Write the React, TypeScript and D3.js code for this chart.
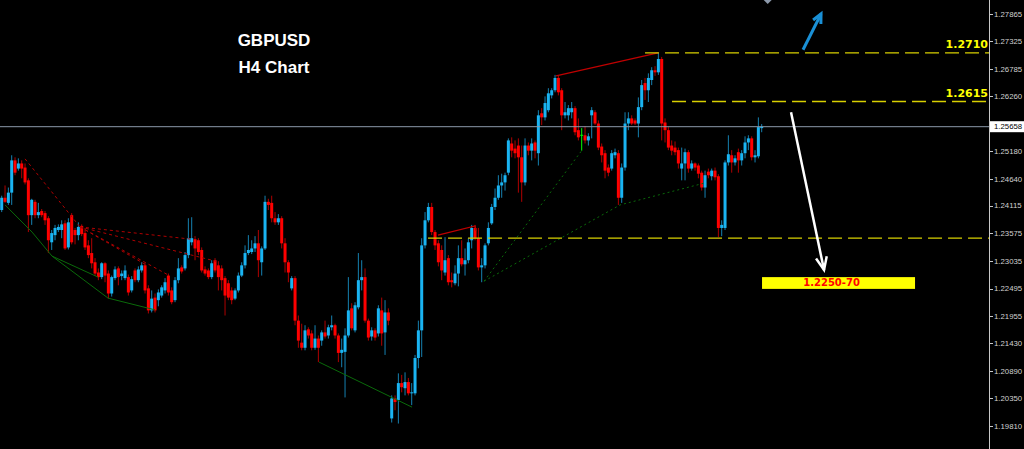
import React from 'react';
import * as d3 from 'd3';

// ---- data (GBPUSD H4) ----
const opens = [
  1.2403,1.2427,1.2417,1.2437,1.2500,1.2484,1.2494,1.2486,1.2461,1.2393,
  1.2419,1.2393,1.2401,1.2397,1.2387,1.2340,1.2354,1.2364,1.2364,1.2377,
  1.2330,1.2393,1.2364,1.2354,1.2372,1.2358,1.2334,1.2319,1.2301,1.2281,
  1.2272,1.2299,1.2279,1.2240,1.2270,1.2289,1.2274,1.2270,1.2272,1.2246,
  1.2285,1.2266,1.2285,1.2295,1.2250,1.2207,1.2232,1.2227,1.2236,1.2246,
  1.2275,1.2246,1.2227,1.2266,1.2291,1.2289,1.2315,1.2340,1.2346,1.2344,
  1.2325,1.2287,1.2285,1.2272,1.2305,1.2295,1.2289,1.2270,1.2260,1.2246,
  1.2230,1.2246,1.2275,1.2295,1.2319,1.2321,1.2328,1.2338,1.2301,1.2328,
  1.2419,1.2417,1.2387,1.2379,1.2387,1.2338,1.2301,1.2250,1.2270,1.2187,
  1.2144,1.2134,1.2170,1.2162,1.2134,1.2152,1.2148,1.2164,1.2158,1.2174,
  1.2178,1.2158,1.2124,1.2126,1.2158,1.2211,1.2168,1.2213,1.2266,1.2272,
  1.2187,1.2156,1.2168,1.2162,1.2207,1.2164,1.2203,1.1996,1.2035,1.2032,
  1.2065,1.2055,1.2067,1.2045,1.2045,1.2114,1.2168,1.2334,1.2383,1.2409,
  1.2360,1.2338,1.2325,1.2281,1.2309,1.2266,1.2260,1.2279,1.2309,1.2297,
  1.2305,1.2344,1.2368,1.2348,1.2291,1.2295,1.2338,1.2377,1.2409,1.2427,
  1.2451,1.2457,1.2476,1.2533,1.2523,1.2529,1.2506,1.2457,1.2529,1.2519,
  1.2535,1.2514,1.2592,1.2584,1.2598,1.2627,1.2637,1.2661,1.2637,1.2588,
  1.2588,1.2594,1.2602,1.2559,1.2549,1.2549,1.2539,1.2588,1.2594,1.2572,
  1.2527,1.2514,1.2486,1.2484,1.2510,1.2514,1.2427,1.2486,1.2572,1.2582,
  1.2578,1.2572,1.2604,1.2651,1.2637,1.2657,1.2676,1.2672,1.2698,1.2574,
  1.2559,1.2529,1.2525,1.2520,1.2484,1.2494,1.2516,1.2484,1.2494,1.2490,
  1.2476,1.2447,1.2478,1.2469,1.2480,1.2469,1.2368,1.2368,1.2496,1.2510,
  1.2496,1.2516,1.2500,1.2514,1.2535,1.2543,1.2506,1.2508,1.2563,
];
const closes = [
  1.2427,1.2419,1.2437,1.2500,1.2476,1.2494,1.2484,1.2457,1.2393,1.2423,
  1.2393,1.2399,1.2393,1.2383,1.2344,1.2358,1.2368,1.2370,1.2375,1.2328,
  1.2379,1.2340,1.2354,1.2370,1.2356,1.2330,1.2315,1.2299,1.2279,1.2272,
  1.2299,1.2275,1.2240,1.2272,1.2287,1.2272,1.2279,1.2285,1.2242,1.2268,
  1.2266,1.2287,1.2295,1.2246,1.2207,1.2230,1.2207,1.2242,1.2252,1.2262,
  1.2242,1.2223,1.2266,1.2289,1.2283,1.2315,1.2348,1.2348,1.2328,1.2321,
  1.2285,1.2279,1.2272,1.2299,1.2285,1.2272,1.2266,1.2236,1.2232,1.2227,
  1.2246,1.2275,1.2295,1.2319,1.2325,1.2328,1.2338,1.2305,1.2328,1.2419,
  1.2413,1.2387,1.2379,1.2387,1.2338,1.2301,1.2281,1.2270,1.2187,1.2148,
  1.2134,1.2168,1.2158,1.2134,1.2152,1.2134,1.2164,1.2156,1.2174,1.2178,
  1.2158,1.2124,1.2130,1.2158,1.2207,1.2172,1.2217,1.2266,1.2272,1.2187,
  1.2154,1.2168,1.2154,1.2211,1.2162,1.2203,1.2187,1.2035,1.2028,1.2065,
  1.2057,1.2067,1.2045,1.2047,1.2114,1.2168,1.2334,1.2383,1.2409,1.2360,
  1.2334,1.2301,1.2285,1.2305,1.2262,1.2262,1.2279,1.2309,1.2297,1.2305,
  1.2340,1.2368,1.2348,1.2291,1.2295,1.2334,1.2368,1.2409,1.2427,1.2451,
  1.2457,1.2471,1.2539,1.2519,1.2514,1.2506,1.2457,1.2529,1.2519,1.2533,
  1.2519,1.2588,1.2584,1.2612,1.2631,1.2637,1.2661,1.2633,1.2588,1.2594,
  1.2602,1.2602,1.2555,1.2545,1.2549,1.2539,1.2547,1.2598,1.2572,1.2525,
  1.2510,1.2480,1.2476,1.2514,1.2516,1.2427,1.2486,1.2572,1.2582,1.2572,
  1.2572,1.2604,1.2647,1.2637,1.2661,1.2676,1.2672,1.2698,1.2572,1.2559,
  1.2525,1.2519,1.2516,1.2494,1.2494,1.2516,1.2484,1.2494,1.2486,1.2474,
  1.2447,1.2471,1.2471,1.2480,1.2467,1.2368,1.2374,1.2496,1.2512,1.2496,
  1.2504,1.2500,1.2514,1.2535,1.2543,1.2506,1.2510,1.2565,1.25658,
];
const highs = [
  1.2431,1.2451,1.2447,1.2510,1.2506,1.2504,1.2500,1.2494,1.2465,1.2425,
  1.2423,1.2417,1.2405,1.2401,1.2391,1.2364,1.2374,1.2375,1.2383,1.2383,
  1.2387,1.2397,1.2368,1.2379,1.2375,1.2368,1.2344,1.2348,1.2309,1.2289,
  1.2301,1.2301,1.2285,1.2275,1.2293,1.2293,1.2285,1.2295,1.2277,1.2274,
  1.2289,1.2293,1.2301,1.2299,1.2256,1.2246,1.2240,1.2248,1.2256,1.2270,
  1.2279,1.2252,1.2272,1.2309,1.2295,1.2321,1.2387,1.2389,1.2352,1.2348,
  1.2330,1.2293,1.2289,1.2305,1.2309,1.2303,1.2295,1.2274,1.2266,1.2252,
  1.2250,1.2281,1.2301,1.2334,1.2354,1.2344,1.2352,1.2364,1.2332,1.2431,
  1.2425,1.2431,1.2399,1.2395,1.2391,1.2348,1.2305,1.2274,1.2274,1.2197,
  1.2181,1.2178,1.2174,1.2168,1.2178,1.2158,1.2168,1.2187,1.2179,1.2197,
  1.2181,1.2162,1.2152,1.2172,1.2272,1.2221,1.2223,1.2319,1.2305,1.2289,
  1.2191,1.2174,1.2172,1.2217,1.2232,1.2227,1.2211,1.2041,1.2041,1.2084,
  1.2081,1.2086,1.2075,1.2065,1.2120,1.2187,1.2348,1.2399,1.2417,1.2417,
  1.2364,1.2344,1.2334,1.2350,1.2315,1.2281,1.2295,1.2334,1.2344,1.2328,
  1.2348,1.2374,1.2374,1.2368,1.2309,1.2338,1.2379,1.2415,1.2445,1.2471,
  1.2474,1.2476,1.2543,1.2545,1.2539,1.2543,1.2529,1.2543,1.2535,1.2543,
  1.2539,1.2598,1.2602,1.2625,1.2641,1.2641,1.2667,1.2665,1.2641,1.2614,
  1.2608,1.2614,1.2606,1.2582,1.2563,1.2567,1.2553,1.2604,1.2598,1.2578,
  1.2533,1.2520,1.2492,1.2520,1.2523,1.2520,1.2494,1.2594,1.2594,1.2588,
  1.2582,1.2623,1.2657,1.2661,1.2670,1.2682,1.2684,1.2710,1.2702,1.2582,
  1.2565,1.2539,1.2537,1.2525,1.2525,1.2523,1.2520,1.2500,1.2496,1.2494,
  1.2480,1.2480,1.2484,1.2484,1.2486,1.2473,1.2383,1.2500,1.2549,1.2520,
  1.2510,1.2523,1.2520,1.2547,1.2549,1.2547,1.2520,1.2584,1.2571,
];
const lows = [
  1.2399,1.2417,1.2413,1.2413,1.2471,1.2480,1.2465,1.2453,1.2360,1.2374,
  1.2387,1.2387,1.2389,1.2374,1.2319,1.2325,1.2344,1.2360,1.2348,1.2325,
  1.2326,1.2336,1.2336,1.2344,1.2352,1.2325,1.2309,1.2289,1.2274,1.2266,
  1.2268,1.2262,1.2230,1.2234,1.2266,1.2256,1.2266,1.2266,1.2236,1.2242,
  1.2262,1.2262,1.2281,1.2240,1.2201,1.2203,1.2203,1.2215,1.2232,1.2240,
  1.2236,1.2219,1.2223,1.2260,1.2279,1.2285,1.2309,1.2334,1.2305,1.2315,
  1.2281,1.2275,1.2268,1.2268,1.2281,1.2246,1.2246,1.2197,1.2227,1.2219,
  1.2227,1.2242,1.2272,1.2289,1.2315,1.2317,1.2321,1.2272,1.2275,1.2325,
  1.2403,1.2379,1.2374,1.2374,1.2328,1.2281,1.2262,1.2246,1.2178,1.2134,
  1.2129,1.2129,1.2152,1.2129,1.2130,1.2106,1.2138,1.2152,1.2152,1.2168,
  1.2152,1.2106,1.2096,1.2037,1.2154,1.2168,1.2164,1.2209,1.2246,1.2183,
  1.2148,1.2148,1.2148,1.2156,1.2138,1.2120,1.2178,1.1988,1.2012,1.1986,
  1.2047,1.2041,1.2041,1.2022,1.2041,1.2094,1.2116,1.2328,1.2379,1.2354,
  1.2325,1.2293,1.2266,1.2275,1.2256,1.2252,1.2256,1.2254,1.2293,1.2275,
  1.2299,1.2328,1.2344,1.2285,1.2262,1.2289,1.2334,1.2374,1.2403,1.2423,
  1.2427,1.2441,1.2471,1.2506,1.2504,1.2437,1.2419,1.2451,1.2510,1.2500,
  1.2504,1.2490,1.2569,1.2578,1.2594,1.2621,1.2633,1.2627,1.2559,1.2582,
  1.2578,1.2582,1.2549,1.2539,1.2519,1.2533,1.2529,1.2543,1.2569,1.2520,
  1.2496,1.2465,1.2469,1.2480,1.2504,1.2413,1.2417,1.2480,1.2559,1.2569,
  1.2569,1.2545,1.2598,1.2618,1.2614,1.2647,1.2665,1.2667,1.2539,1.2535,
  1.2520,1.2510,1.2510,1.2484,1.2461,1.2461,1.2476,1.2480,1.2480,1.2465,
  1.2441,1.2427,1.2465,1.2461,1.2461,1.2350,1.2352,1.2364,1.2490,1.2476,
  1.2490,1.2476,1.2490,1.2504,1.2520,1.2500,1.2496,1.2504,1.2555,
];

// price-axis tick labels (the one hidden behind the current price box is shown as a tick only)
const axisTicks = [1.27865, 1.27325, 1.26785, 1.26260, 1.25180, 1.24640, 1.24115,
  1.23575, 1.23035, 1.22495, 1.21955, 1.21430, 1.20890, 1.20350, 1.19810];
const hiddenTick = 1.25720;
const currentPrice = 1.25658;

// horizontal levels: price, starting bar index
const levelPrices = [1.2710, 1.2615, 1.2348];
const levelStarts = [193, 201.1, 127.9];
const levelLabels = ['1.2710', '1.2615', ''];

// annotation lines as [barIndex, price]
const redDashed: [number, number][][] = [
  [[7, 1.2503], [23.5, 1.2370]],
  [[23.5, 1.2370], [57, 1.2346]],
  [[23.5, 1.2370], [64.3, 1.2303]],
  [[23.5, 1.2370], [43.3, 1.2296]],
  [[23.5, 1.2370], [50, 1.2276]],
];
const greenSolid: [number, number][][] = [
  [[1, 1.2413], [9.1, 1.2360], [15.1, 1.2313], [28.9, 1.2272]],
  [[15.1, 1.2313], [31.9, 1.2231], [46, 1.2208]],
  [[95.2, 1.2106], [123.1, 1.2018]],
];
const greenDotted: [number, number][][] = [
  [[144.7, 1.2264], [174.1, 1.2520]],
  [[144.7, 1.2264], [185.5, 1.2413], [211, 1.2456]],
];
const redSolid: [number, number][][] = [
  [[130.9, 1.2354], [142, 1.2372], [142.3, 1.2362]],
  [[166.3, 1.2665], [196.9, 1.2710]],
];
const blueArrow: [number, number][] = [[240.4, 1.2716], [245.8, 1.2786]];
const whiteArrow: [number, number][] = [[236.8, 1.2594], [246.7, 1.2286]];
const targetBox = { from: 228.1, to: 274, top: 1.2272, bottom: 1.2249, label: '1.2250-70' };

const W = 1024;
const H = 449;
const AXIS_X = 989;

const BULL = '#1ab4f2';
const BEAR = '#ff0000';
const BULL_WICK = '#1580b0';
const BEAR_WICK = '#b00000';

function arrowHead(x1: number, y1: number, x2: number, y2: number, len: number, ang: number) {
  const a = Math.atan2(y2 - y1, x2 - x1);
  const p1 = [x2 - len * Math.cos(a - ang), y2 - len * Math.sin(a - ang)];
  const p2 = [x2 - len * Math.cos(a + ang), y2 - len * Math.sin(a + ang)];
  return `M${p1[0]},${p1[1]}L${x2},${y2}L${p2[0]},${p2[1]}`;
}

export default function App() {
  const x = d3.scaleLinear().domain([0, 228]).range([1.7, 761.7]);
  const y = d3.scaleLinear().domain([1.19810, 1.27865]).range([426.1, 13.7]);
  const line = d3.line<[number, number]>().x(d => x(d[0])).y(d => y(d[1]));

  const bx1 = x(blueArrow[0][0]), by1 = y(blueArrow[0][1]);
  const bx2 = x(blueArrow[1][0]), by2 = y(blueArrow[1][1]);
  const wx1 = x(whiteArrow[0][0]), wy1 = y(whiteArrow[0][1]);
  const wx2 = x(whiteArrow[1][0]), wy2 = y(whiteArrow[1][1]);

  return (
    <svg width={W} height={H} style={{ position: 'absolute', left: 0, top: 0, display: 'block' }}>
      <rect x={0} y={0} width={W} height={H} fill="#000" />

      {/* candles */}
      {opens.map((o, i) => {
        const c = closes[i];
        const doji = o === c;
        const up = c > o;
        const body = doji ? '#00ff00' : up ? BULL : BEAR;
        const wick = doji ? '#00ff00' : up ? BULL_WICK : BEAR_WICK;
        const cx = x(i);
        const yt = y(Math.max(o, c));
        const yb = y(Math.min(o, c));
        return (
          <g key={i}>
            <line x1={cx} x2={cx} y1={y(highs[i])} y2={y(lows[i])} stroke={wick} strokeWidth={1} />
            {doji ? (
              <line x1={cx - 1.5} x2={cx + 1.5} y1={yt} y2={yt} stroke={body} strokeWidth={1} />
            ) : (
              <rect x={cx - 1.5} y={yt} width={3} height={Math.max(1, yb - yt)} fill={body} />
            )}
          </g>
        );
      })}

      {/* annotation lines */}
      {greenSolid.map((pts, i) => (
        <path key={'gs' + i} d={line(pts) || ''} fill="none" stroke="#0a6a0a" strokeWidth={1} />
      ))}
      {greenDotted.map((pts, i) => (
        <path key={'gd' + i} d={line(pts) || ''} fill="none" stroke="#0a6a0a" strokeWidth={1} strokeDasharray="2,3" />
      ))}
      {redDashed.map((pts, i) => (
        <path key={'rd' + i} d={line(pts) || ''} fill="none" stroke="#b00000" strokeWidth={1} strokeDasharray="3,3" />
      ))}
      {redSolid.map((pts, i) => (
        <path key={'rs' + i} d={line(pts) || ''} fill="none" stroke="#c00000" strokeWidth={1.2} />
      ))}

      {/* current price line */}
      <line x1={0} x2={AXIS_X} y1={y(currentPrice)} y2={y(currentPrice)} stroke="#8c99ab" strokeWidth={1} />

      {/* yellow levels */}
      {levelPrices.map((p, i) => (
        <g key={'lv' + i}>
          <line x1={x(levelStarts[i])} x2={AXIS_X} y1={y(p)} y2={y(p)} stroke="#d8d000" strokeWidth={1.3} strokeDasharray="14,6" />
          {levelLabels[i] && (
            <text x={AXIS_X - 1} y={y(p) - 4.5} textAnchor="end" fill="#ffff00" fontFamily="DejaVu Sans" fontWeight="bold" fontSize={11}>
              {levelLabels[i]}
            </text>
          )}
        </g>
      ))}

      {/* arrows */}
      <line x1={bx1} y1={by1} x2={bx2} y2={by2} stroke="#1a90d6" strokeWidth={3} />
      <path d={arrowHead(bx1, by1, bx2, by2, 10, 0.45)} fill="none" stroke="#1a90d6" strokeWidth={3} />
      <line x1={wx1} y1={wy1} x2={wx2} y2={wy2} stroke="#ffffff" strokeWidth={2.5} />
      <path d={arrowHead(wx1, wy1, wx2, wy2, 14, 0.4)} fill="none" stroke="#ffffff" strokeWidth={2.5} />

      {/* gray marker at top */}
      <path d={`M${x(229.8) - 5},${-1}L${x(229.8) + 5},${-1}L${x(229.8)},${4}Z`} fill="#8c99ab" />

      {/* target box */}
      <rect x={x(targetBox.from)} y={y(targetBox.top)} width={x(targetBox.to) - x(targetBox.from)} height={y(targetBox.bottom) - y(targetBox.top)} fill="#ffff00" />
      <text x={(x(targetBox.from) + x(targetBox.to)) / 2 - 7} y={y(targetBox.bottom) - 2.5} textAnchor="middle" fill="#ff0000" fontFamily="DejaVu Sans" fontWeight="bold" fontSize={10}>
        {targetBox.label}
      </text>

      {/* title */}
      <text x={274} y={46} textAnchor="middle" fill="#fff" fontFamily="Liberation Sans" fontWeight="bold" fontSize={17}>GBPUSD</text>
      <text x={274} y={73} textAnchor="middle" fill="#fff" fontFamily="Liberation Sans" fontWeight="bold" fontSize={17}>H4 Chart</text>

      {/* price axis */}
      <line x1={AXIS_X + 0.5} x2={AXIS_X + 0.5} y1={0} y2={H} stroke="#c8c8c8" strokeWidth={1} />
      {axisTicks.map((t, i) => (
        <g key={'t' + i}>
          <line x1={AXIS_X} x2={AXIS_X + 4} y1={Math.round(y(t)) + 0.5} y2={Math.round(y(t)) + 0.5} stroke="#c8c8c8" />
          <text x={AXIS_X + 5} y={y(t) + 2.8} fill="#d0d0d0" fontFamily="Liberation Sans" fontSize={7.8}>{t.toFixed(5)}</text>
        </g>
      ))}
      <line x1={AXIS_X} x2={AXIS_X + 4} y1={Math.round(y(hiddenTick)) + 0.5} y2={Math.round(y(hiddenTick)) + 0.5} stroke="#c8c8c8" />
      <rect x={AXIS_X + 1} y={y(currentPrice) - 5.5} width={W - AXIS_X - 1} height={11} fill="#ffffff" />
      <text x={AXIS_X + 5} y={y(currentPrice) + 2.8} fill="#000" fontFamily="Liberation Sans" fontSize={7.8}>{currentPrice.toFixed(5)}</text>
    </svg>
  );
}
